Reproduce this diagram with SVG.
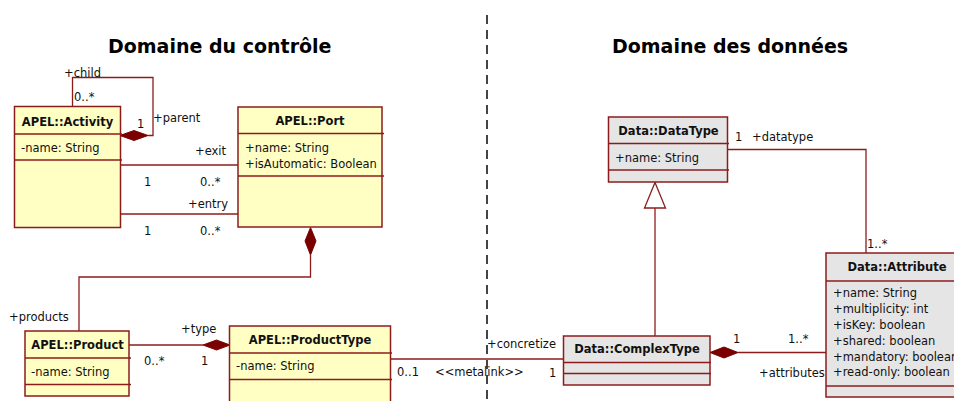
<svg xmlns="http://www.w3.org/2000/svg" width="954" height="401" viewBox="0 0 954 401">
<style>
text{font-family:"DejaVu Sans",Verdana,sans-serif;font-size:11.5px;fill:#111}
.title{font-size:19px;font-weight:bold;fill:#000}
.cn{font-weight:bold;text-anchor:middle}
.box{stroke:#8c1c1c;stroke-width:1.5}
.y{fill:#ffffc4}
.g{fill:#e5e5e5}
.dv{stroke:#8c1c1c;stroke-width:1.3}
.ln{fill:none;stroke:#8c1c1c;stroke-width:1.3}
.dia{fill:#7a0000;stroke:#7a0000;stroke-width:1}
</style>
<rect width="954" height="401" fill="#fff"/>
<line x1="487" y1="15" x2="487" y2="401" stroke="#444" stroke-width="2" stroke-dasharray="9 6"/>
<text class="title" x="108" y="53">Domaine du contrôle</text>
<text class="title" x="612" y="53">Domaine des données</text>

<g id="connectors">
<polyline class="ln" points="72.5,106.5 72.5,77.5 153,77.5 153,135.5 148,135.5"/>
<polygon class="dia" points="120,135.5 134,130.5 148,135.5 134,140.5"/>
<line class="ln" x1="120.5" y1="165" x2="238" y2="165"/>
<line class="ln" x1="120.5" y1="214" x2="238" y2="214"/>
<polygon class="dia" points="310.5,227.5 316,241 310.5,255 305,241"/>
<polyline class="ln" points="310.5,255 310.5,277 79,277 79,331"/>
<line class="ln" x1="129" y1="345" x2="203" y2="345"/>
<polygon class="dia" points="203,345 216.5,340 230,345 216.5,350"/>
<line class="ln" x1="390.5" y1="359" x2="563.5" y2="359"/>
<line class="ln" x1="655" y1="208" x2="655" y2="336"/>
<polygon points="655,182.5 665.5,208 644.5,208" fill="#fff" stroke="#8c1c1c" stroke-width="1.3"/>
<polyline class="ln" points="727.5,149.5 866,149.5 866,253"/>
<polygon class="dia" points="710,352.5 724,347 738,352.5 724,358"/>
<line class="ln" x1="738" y1="352.5" x2="826" y2="352.5"/>
<text x="64" y="77">+child</text>
<text x="74" y="101">0..*</text>
<text x="137" y="128">1</text>
<text x="153" y="122">+parent</text>
<text x="195" y="155">+exit</text>
<text x="144" y="186">1</text>
<text x="200" y="186">0..*</text>
<text x="188" y="208">+entry</text>
<text x="144" y="235">1</text>
<text x="200" y="235">0..*</text>
<text x="9" y="321">+products</text>
<text x="181" y="333">+type</text>
<text x="144" y="365">0..*</text>
<text x="201" y="365">1</text>
<text x="487" y="348">+concretize</text>
<text x="397" y="376">0..1</text>
<text x="435" y="376">&lt;&lt;metalink&gt;&gt;</text>
<text x="549" y="377">1</text>
<text x="735" y="141">1</text>
<text x="752" y="141">+datatype</text>
<text x="867" y="248">1..*</text>
<text x="733" y="343">1</text>
<text x="788" y="343">1..*</text>
<text x="759" y="377">+attributes</text>
</g>

<g id="activity">
<rect class="box y" x="14.5" y="106.5" width="106" height="121"/>
<line class="dv" x1="14.5" y1="134" x2="122" y2="134"/>
<line class="dv" x1="14.5" y1="160" x2="122" y2="160"/>
<text class="cn" x="67.5" y="126">APEL::Activity</text>
<text x="21" y="152">-name: String</text>
</g>

<g id="port">
<rect class="box y" x="238" y="107" width="144" height="120"/>
<line class="dv" x1="238" y1="133.5" x2="384" y2="133.5"/>
<line class="dv" x1="238" y1="176" x2="384" y2="176"/>
<text class="cn" x="310" y="125">APEL::Port</text>
<text x="245" y="152">+name: String</text>
<text x="245" y="168">+isAutomatic: Boolean</text>
</g>

<g id="product">
<rect class="box y" x="25" y="331" width="104" height="65"/>
<line class="dv" x1="25" y1="358" x2="131" y2="358"/>
<line class="dv" x1="25" y1="384.5" x2="131" y2="384.5"/>
<text class="cn" x="77.5" y="349">APEL::Product</text>
<text x="31" y="376">-name: String</text>
</g>

<g id="producttype">
<rect class="box y" x="229.5" y="326" width="161" height="90"/>
<line class="dv" x1="229.5" y1="353" x2="392" y2="353"/>
<line class="dv" x1="229.5" y1="379.5" x2="392" y2="379.5"/>
<text class="cn" x="310" y="344">APEL::ProductType</text>
<text x="236" y="370">-name: String</text>
</g>

<g id="datatype">
<rect class="box g" x="608.5" y="117" width="119" height="65"/>
<line class="dv" x1="608.5" y1="143.5" x2="729" y2="143.5"/>
<line class="dv" x1="608.5" y1="170" x2="729" y2="170"/>
<text class="cn" x="668.5" y="135">Data::DataType</text>
<text x="615" y="162">+name: String</text>
</g>

<g id="complextype">
<rect class="box g" x="563.5" y="336" width="146.5" height="49"/>
<line class="dv" x1="563.5" y1="362.5" x2="711" y2="362.5"/>
<line class="dv" x1="563.5" y1="373.5" x2="711" y2="373.5"/>
<text class="cn" x="637" y="353">Data::ComplexType</text>
</g>

<g id="attribute">
<rect class="box g" x="826" y="253" width="144" height="144"/>
<line class="dv" x1="826" y1="281" x2="970" y2="281"/>
<line class="dv" x1="826" y1="386" x2="970" y2="386"/>
<text class="cn" x="897" y="271">Data::Attribute</text>
<text x="833" y="297">+name: String</text>
<text x="833" y="313">+multiplicity: int</text>
<text x="833" y="329">+isKey: boolean</text>
<text x="833" y="345">+shared: boolean</text>
<text x="833" y="361">+mandatory: boolean</text>
<text x="833" y="376">+read-only: boolean</text>
</g>
</svg>
